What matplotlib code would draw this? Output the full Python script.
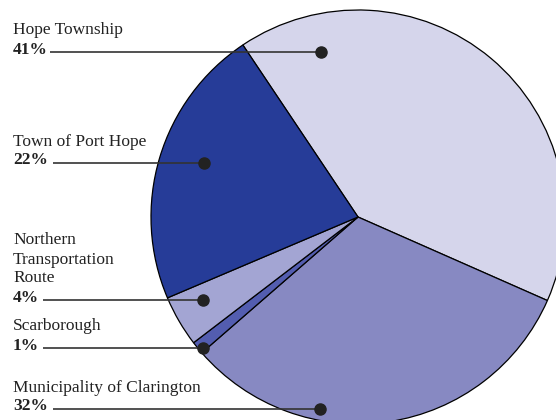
import matplotlib
matplotlib.use("Agg")
import matplotlib.pyplot as plt

labels = ["Hope Township", "Municipality of Clarington", "Scarborough",
          "Northern\nTransportation\nRoute", "Town of Port Hope"]
values = [41, 32, 1, 4, 22]
colors = ["#d5d5eb", "#8789c2", "#535db0", "#a3a5d3", "#263c98"]

W, H = 556, 420
fig = plt.figure(figsize=(W / 100, H / 100), dpi=100)
ax = fig.add_axes([0, 0, 1, 1])

cx, cy, R = 358, H - 217, 207
ax.pie(values, colors=colors, startangle=123.8, counterclock=False,
       center=(cx, cy), radius=R,
       wedgeprops=dict(edgecolor="black", linewidth=0.9))
ax.set_xlim(0, W)
ax.set_ylim(0, H)
ax.set_aspect("equal")
ax.axis("off")

# label layout: (text x, line y (px from top), line start x, dot x)
layout = {
    "Hope Township": (13, 52, 50, 321),
    "Municipality of Clarington": (13, 409, 53, 320),
    "Scarborough": (13, 348, 43, 203),
    "Northern\nTransportation\nRoute": (13, 300, 43, 203),
    "Town of Port Hope": (13, 163, 53, 204),
}
lh = 19
fs = 12.5
off = 1.5
for lab, val in zip(labels, values):
    tx, py, lx, dx = layout[lab]
    lines = lab.split("\n")
    for i, ln in enumerate(reversed(lines)):
        ax.text(tx, H - py + lh * (i + 1) - off, ln, fontsize=fs,
                family="Liberation Serif", color="#222222", va="baseline")
    ax.text(tx, H - py - off, f"{val}%", fontsize=fs, fontweight="bold",
            family="Liberation Serif", color="#222222", va="baseline")
    ax.plot([lx, dx], [H - py, H - py], color="#333333", lw=1.2,
            solid_capstyle="butt", zorder=5)
    ax.plot([dx], [H - py], "o", color="#222222", ms=8, zorder=6)

fig.savefig("out.png", dpi=100)
